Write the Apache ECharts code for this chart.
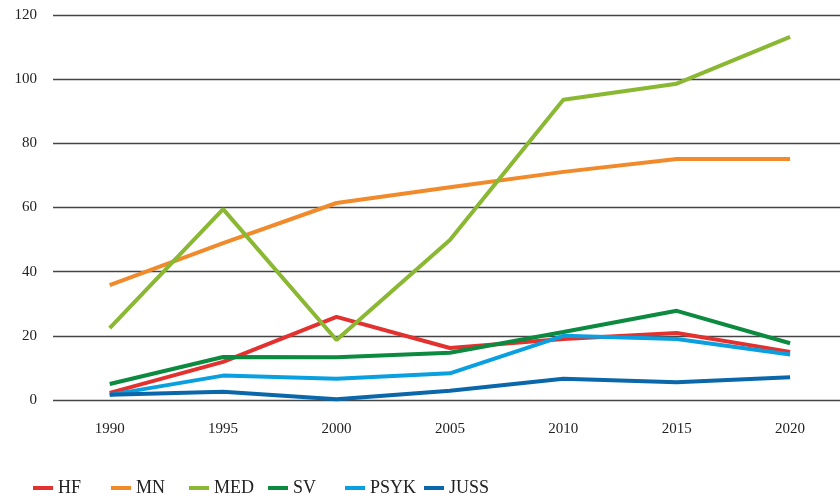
<!DOCTYPE html>
<html><head><meta charset="utf-8">
<script src="https://cdn.jsdelivr.net/npm/echarts@6/dist/echarts.min.js"></script>
<style>html,body{margin:0;padding:0;background:#fff}#c{width:840px;height:497px}</style>
</head><body><div id="c"></div>
<script>
const years = [1990, 1995, 2000, 2005, 2010, 2015, 2020];
const yTicks = [0,20,40,60,80,100,120];
const HF   = [2.2, 11.9, 25.9, 16.2, 19.0, 20.9, 15.0];
const MN   = [35.8, 48.9, 61.4, 66.3, 71.1, 75.1, 75.1];
const MED  = [22.4, 59.5, 18.7, 49.9, 93.6, 98.6, 113.2];
const SV   = [5.0, 13.4, 13.3, 14.7, 21.2, 27.8, 17.7];
const PSYK = [1.6, 7.6, 6.6, 8.3, 20.0, 19.0, 14.2];
const JUSS = [1.6, 2.6, 0.2, 2.9, 6.6, 5.5, 7.1];
const names = ['HF','MN','MED','SV','PSYK','JUSS'];
const seriesData = [HF, MN, MED, SV, PSYK, JUSS];
const colors = ['#e2312e','#f08a2a','#8ab833','#0b8a40','#0aa0e0','#0a68aa'];
const font = '"Liberation Serif", "DejaVu Serif", serif';
const legendLefts = [33, 111, 189, 268, 345, 424];
const chart = echarts.init(document.getElementById('c'), null, {renderer:'canvas'});
chart.setOption({
  animation:false,
  backgroundColor:'#fff',
  textStyle:{fontFamily:font},
  grid:{left:53, top:15, right:0, bottom:97, containLabel:false},
  legend: names.map((n,i)=>({
    left:legendLefts[i], top:479, itemWidth:20, itemHeight:4, icon:'rect', padding:0,
    textStyle:{fontFamily:font, fontSize:18, color:'#222'},
    data:[n]
  })),
  xAxis:{
    type:'value', min:1987.5, max:2022.2,
    axisLine:{show:false}, axisTick:{show:false},
    axisLabel:{fontFamily:font, fontSize:15, color:'#222', margin:22, customValues:years, formatter:v=>String(v)},
    splitLine:{show:false}
  },
  yAxis:{
    type:'value', min:0, max:120, interval:20,
    axisLine:{show:false}, axisTick:{show:false},
    axisLabel:{fontFamily:font, fontSize:15, color:'#222', margin:16},
    splitLine:{show:true, lineStyle:{color:'#444', width:1.3}}
  },
  series: names.map((n,i)=>({
    name:n, type:'line', data:years.map((y,j)=>[y, seriesData[i][j]]), symbol:'none',
    lineStyle:{width:4, color:colors[i]}, itemStyle:{color:colors[i]}
  }))
});
</script></body></html>
